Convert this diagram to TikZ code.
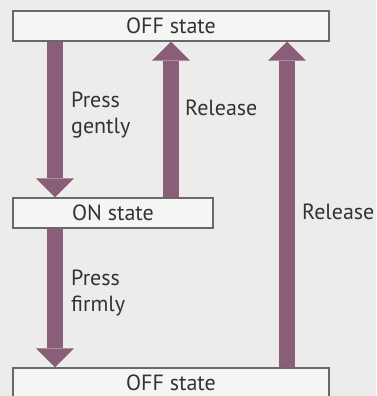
\documentclass[tikz,border=0pt]{standalone}
\usepackage{fontspec}
\setmainfont{PT Sans}
\usetikzlibrary{arrows.meta,positioning}
\definecolor{bgc}{RGB}{236,236,234}
\definecolor{boxfill}{RGB}{245,245,243}
\definecolor{boxline}{RGB}{105,105,105}
\definecolor{arrowc}{RGB}{138,94,120}
\definecolor{txt}{RGB}{51,51,51}
\begin{document}
\begin{tikzpicture}[x=1pt,y=-1pt,>={Triangle[width=38pt,length=19pt,line width=0pt]}]
	\tikzstyle{state} = [draw=boxline, fill=boxfill, line width=1.2pt, rectangle, minimum height=30pt, inner sep=0pt, text=txt, font=\fontsize{22}{26}\selectfont]
	\tikzstyle{flow} = [->, line width=16pt, draw=arrowc, fill=arrowc]
	\tikzstyle{lbl} = [anchor=west, align=left, inner sep=0pt, text=txt, font=\fontsize{22}{26}\selectfont]
	
	\fill [bgc] (0,0) rectangle (376,396);
	\useasboundingbox (0,0) rectangle (376,396);
	
	\node [state, minimum width=316pt] (offtop) at (171,26) {OFF state};
	\node [state, minimum width=200pt] (on) at (113,213) {ON state};
	\node [state, minimum width=316pt] (offbot) at (171,383) {OFF state};
	
	\coordinate (cl) at (55,0);
	\coordinate (cm) at (171,0);
	\coordinate (cr) at (287,0);
	
	\node [lbl] (gently) at (71,115) {Press\\gently};
	\node [lbl] (rel1) at (185,108) {Release};
	\node [lbl] (rel2) at (302,212) {Release};
	\node [lbl] (firmly) at (71,293) {Press\\firmly};
	
	\draw [flow] (offtop.south -| cl) -- (on.north -| cl);
	\draw [flow] (on.north -| cm) -- (offtop.south -| cm);
	\draw [flow] (offbot.north -| cr) -- (offtop.south -| cr);
	\draw [flow] (on.south -| cl) -- (offbot.north -| cl);
	
\end{tikzpicture}
\end{document}
